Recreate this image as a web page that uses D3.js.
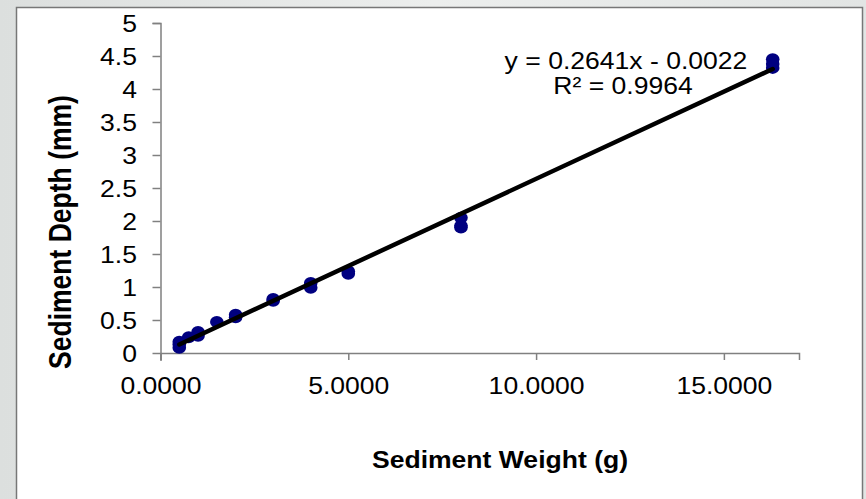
<!doctype html>
<html>
  <head>
    <script src="https://cdnjs.cloudflare.com/ajax/libs/d3/7.8.5/d3.min.js"></script>
  <style>
    body { margin: 0; background: #e4e7e6; }
    text { font-family: Arial, "Liberation Sans", sans-serif; }
  </style>
  </head>
  <body>
    <svg id="chart" width="866" height="499"></svg>
    <script>
      // sediment weight (g) vs depth (mm)
      var weights = [0.5, 0.5, 0.5, 0.75, 1, 1, 1.5, 2, 2, 3, 3, 4, 4, 5, 5, 8, 8, 8, 16.3, 16.3, 16.3];
      var depths  = [0.08, 0.13, 0.17, 0.24, 0.32, 0.26, 0.47, 0.58, 0.54, 0.79, 0.82, 1.06, 0.99, 1.20, 1.24, 2.05, 1.93, 1.90, 4.45, 4.38, 4.32];
      var slope = 0.2641, intercept = -0.0022;
      var eqLabel = "y = 0.2641x - 0.0022";
      var r2Label = "R\u00b2 = 0.9964";
      var xTicks = [0, 5, 10, 15];
      var yTicks = [0, 0.5, 1, 1.5, 2, 2.5, 3, 3.5, 4, 4.5, 5];

      // the source picture is stretched sideways a little, so text is too
      var sx = 1.13;
      var fs = "23.5px";

      var svg = d3.select("#chart");

      var defs = svg.append("defs");
      var grad = defs.append("linearGradient").attr("id", "bg").attr("x1", 0).attr("x2", 1).attr("y1", 0).attr("y2", 0);
      grad.append("stop").attr("offset", "0%").attr("stop-color", "#dcdfde");
      grad.append("stop").attr("offset", "50%").attr("stop-color", "#eceeed");
      grad.append("stop").attr("offset", "100%").attr("stop-color", "#e2e5e4");
      svg.append("rect").attr("width", 866).attr("height", 499).attr("fill", "url(#bg)");

      svg.append("rect")
        .attr("x", 16.5).attr("y", 7.5).attr("width", 846).attr("height", 500)
        .attr("fill", "#fff").attr("stroke", "#777").attr("stroke-width", 1.5);

      var x = d3.scaleLinear().domain([0, 17]).range([160.5, 799]);
      var y = d3.scaleLinear().domain([0, 5]).range([353, 23]);

      var xAxis = d3.axisBottom(x).tickValues(xTicks).tickSize(7)
        .tickFormat(d3.format(".4f"));
      var yAxis = d3.axisLeft(y).tickValues(yTicks).tickSize(8)
        .tickFormat(d => d);

      var gx = svg.append("g").attr("transform", "translate(0,353)").call(xAxis);
      var gy = svg.append("g").attr("transform", "translate(160.5,0)").call(yAxis);
      [gx, gy].forEach(function(g) {
        g.select("path.domain").attr("stroke", "#808080").attr("stroke-width", 1.5);
        g.selectAll(".tick line").attr("stroke", "#808080").attr("stroke-width", 1.5);
        g.selectAll(".tick text").attr("fill", "#000").style("font-size", fs)
          .style("font-family", "Arial, 'Liberation Sans', sans-serif")
          .attr("transform", "scale(" + sx + ",1)");
      });
      gx.selectAll(".tick text").attr("y", 41).attr("dy", null);
      gy.selectAll(".tick text").attr("x", -23.5 / sx).attr("dy", "0.36em");
      // y axis runs a little past the x axis
      gy.select("path.domain").attr("d", "M-8,23.5H0.5V361");

      var pts = weights.map((w, i) => ({ w: w, d: depths[i] }));

      svg.append("g").selectAll("ellipse")
        .data(pts)
        .enter()
        .append("ellipse")
          .attr("cx", d => x(d.w))
          .attr("cy", d => y(d.d))
          .attr("rx", 6.8)
          .attr("ry", 6)
          .attr("fill", "#000080");

      var xmin = d3.min(weights), xmax = d3.max(weights);
      svg.append("line")
        .attr("x1", x(xmin)).attr("y1", y(slope * xmin + intercept))
        .attr("x2", x(xmax)).attr("y2", y(slope * xmax + intercept))
        .attr("stroke", "#000").attr("stroke-width", 4.5).attr("stroke-linecap", "round");

      function label(cx, cy, txt, bold) {
        svg.append("text")
          .attr("transform", "translate(" + cx + "," + cy + ") scale(" + sx + ",1)")
          .attr("text-anchor", "middle")
          .style("font-size", fs).style("font-weight", bold ? "bold" : null)
          .text(txt);
      }
      label(626, 69, eqLabel);
      label(623, 94, r2Label);
      label(500, 468, "Sediment Weight (g)", true);

      svg.append("text")
        .attr("transform", "translate(71,232) scale(1.2,1) rotate(-90)").attr("text-anchor", "middle")
        .style("font-size", "26.5px").style("font-weight", "bold")
        .text("Sediment Depth (mm)");
    </script>
  </body>
</html>
